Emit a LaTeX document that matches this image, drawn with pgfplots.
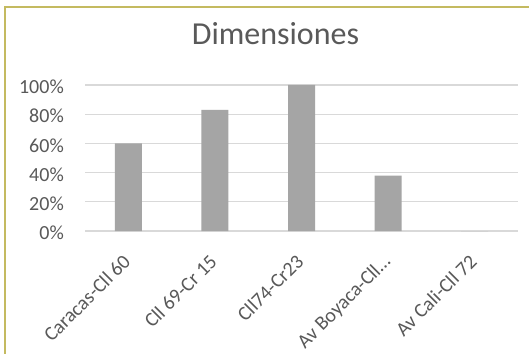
\documentclass[border=0pt]{standalone}
\usepackage{fontspec}
\setmainfont{Carlito}
\usepackage{pgfplots}
\pgfplotsset{compat=1.18}
\definecolor{txt}{HTML}{595959}
\definecolor{gridc}{HTML}{D9D9D9}
\definecolor{barc}{HTML}{A5A5A5}
\definecolor{framec}{RGB}{196,186,96}
\begin{document}
\begin{tikzpicture}[x=1pt,y=1pt]
\useasboundingbox (0,0) rectangle (529,353);
\fill[white] (0,0) rectangle (529,353);
% chart frame (top and left edges)
\draw[framec, line width=2pt] (5.3,-5) -- (5.3,346.3) -- (540,346.3);
\node[anchor=base, text=txt, font=\fontsize{32}{38}\selectfont] at (275.5,308.7) {Dimensiones};
\begin{axis}[
  at={(85pt,122pt)}, anchor=south west, scale only axis,
  width=433pt, height=146pt,
  xmin=-0.5, xmax=4.5, ymin=0, ymax=1,
  axis line style={draw=none}, major tick style={draw=none},
  ymajorgrids, grid style={gridc, line width=1.3pt},
  ytick={0,0.2,0.4,0.6,0.8,1},
  yticklabels={0\%,20\%,40\%,60\%,80\%,100\%},
  xtick={0,1,2,3,4},
  xticklabels={Caracas-Cll 60, Cll 69-Cr 15, Cll74-Cr23, Av Boyaca-Cll…, Av Cali-Cll 72},
  ticklabel style={font=\fontsize{20}{24}\selectfont, text=txt, inner sep=0pt},
  yticklabel style={anchor=east, xshift=-21pt, yshift=-2pt},
  xticklabel style={xshift=-1.5pt, yshift=-27pt, rotate=45, anchor=east, text depth=0pt},
  clip=false,
]
\addplot[ybar, bar width=27pt, fill=barc, draw=none] coordinates {(0,0.60) (1,0.83) (2,1.0) (3,0.38) (4,0)};
\end{axis}
\end{tikzpicture}
\end{document}
